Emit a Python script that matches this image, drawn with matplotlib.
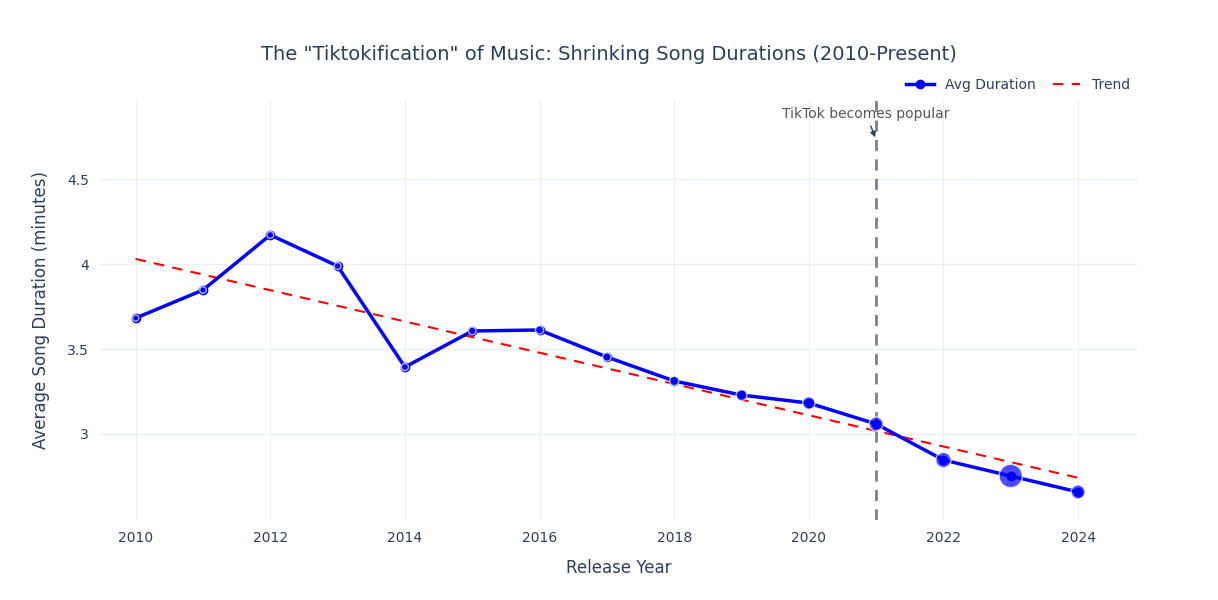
import numpy as np
import matplotlib.pyplot as plt

years = [2010, 2011, 2012, 2013, 2014, 2015, 2016, 2017, 2018, 2019, 2020, 2021, 2022, 2023, 2024]
avg_duration = [3.682, 3.847, 4.171, 3.988, 3.394, 3.606, 3.612, 3.453, 3.312, 3.229, 3.182, 3.059, 2.847, 2.753, 2.659]
song_counts = [20, 22, 24, 24, 26, 30, 34, 36, 44, 60, 80, 100, 120, 280, 100]

tiktok_year = 2021

fig = plt.figure(figsize=(12.18, 6), dpi=100)
ax = fig.add_axes([100 / 1218, 80 / 600, 1038 / 1218, 420 / 600])

grid_col = '#ebf0f8'
text_col = '#2a3f5f'

# trend line from a linear fit
coef = np.polyfit(years, avg_duration, 1)
trend = np.polyval(coef, years)

ax.plot(years, avg_duration, color='blue', lw=2.5, zorder=3, label='Avg Duration',
        marker='o', markersize=6)
ax.scatter(years, avg_duration, s=song_counts, color='blue', alpha=0.7,
           edgecolors='white', linewidths=1, zorder=4)
ax.plot(years, trend, color='red', lw=1.5, ls=(0, (5, 4)), zorder=2, label='Trend')

ax.axvline(tiktok_year, color='gray', lw=2, ls=(0, (4, 3)), zorder=1)
ax.annotate('TikTok becomes popular', xy=(tiktok_year, 4.73), xytext=(tiktok_year - 0.15, 4.885),
            ha='center', va='center', fontsize=10, color='#555555',
            arrowprops=dict(arrowstyle='-|>', color=text_col, lw=1, mutation_scale=8))

ax.set_xlim(2009.47, 2024.89)
ax.set_ylim(2.494, 4.965)
ax.set_xticks(range(2010, 2025, 2))
ax.set_yticks([3, 3.5, 4, 4.5])
ax.set_yticklabels(['3', '3.5', '4', '4.5'])
ax.grid(True, color=grid_col, lw=1)
ax.set_axisbelow(True)
for s in ax.spines.values():
    s.set_visible(False)
ax.tick_params(length=0, colors=text_col, labelsize=10, pad=8)

ax.set_xlabel('Release Year', fontsize=12, color=text_col, labelpad=10)
ax.set_ylabel('Average Song Duration (minutes)', fontsize=12, color=text_col, labelpad=12)
fig.text(609 / 1218, 1 - 55 / 600, 'The "Tiktokification" of Music: Shrinking Song Durations (2010-Present)',
         ha='center', va='center', fontsize=14, color=text_col)

ax.legend(loc='lower right', bbox_to_anchor=(1.0, 1.0), ncol=2, frameon=False,
          fontsize=10, labelcolor=text_col, handlelength=2, columnspacing=1.2,
          borderaxespad=0.2)

fig.savefig('out.png', dpi=100)
